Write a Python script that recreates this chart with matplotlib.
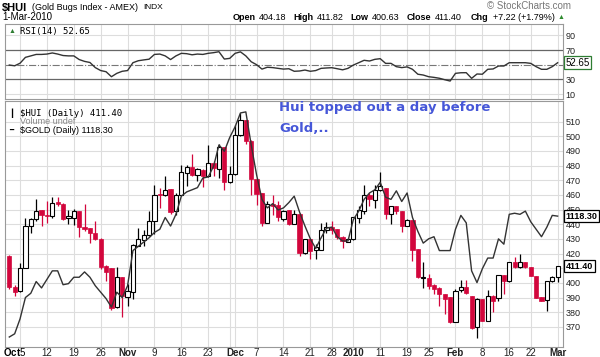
import matplotlib
matplotlib.use('Agg')
import matplotlib.pyplot as plt
import numpy as np
import pandas as pd

plt.rcParams['font.family'] = ['Liberation Sans', 'DejaVu Sans']
plt.rcParams['mathtext.fontset'] = 'custom'
plt.rcParams['mathtext.rm'] = 'Liberation Sans'
plt.rcParams['mathtext.bf'] = 'Liberation Sans:bold'

# HUI daily candles, Oct 1 2009 .. Mar 1 2010
opens = [418.4, 397.3, 394.2, 410.0, 438.8, 443.3, 449.4, 446.3, 445.5, 455.0,
         453.9, 443.9, 444.4, 448.9, 438.3, 437.2, 434.2, 430.1, 411.6, 410.0,
         383.3, 404.1, 390.6, 394.0, 425.2, 429.5, 432.4, 442.1, 460.7, 460.2,
         464.1, 448.9, 460.2, 474.9, 479.0, 473.8, 477.2, 472.6, 481.7, 477.9,
         492.3, 468.6, 474.2, 500.5, 511.1, 496.9, 471.1, 461.3, 441.0, 453.9,
         453.4, 443.3, 449.4, 440.3, 447.1, 420.2, 429.7, 422.4, 422.4, 436.0,
         438.0, 436.5, 431.5, 428.0, 429.7, 444.4, 448.9, 460.2, 456.8, 463.6,
         464.8, 446.7, 452.3, 448.9, 438.7, 442.8, 422.9, 403.6, 403.6, 398.5,
         396.5, 392.3, 390.1, 373.6, 395.1, 396.9, 391.0, 369.7, 389.0, 374.2,
         391.2, 389.5, 405.3, 401.0, 414.3, 410.5, 414.3, 410.5, 404.8, 390.1,
         388.5, 401.0, 404.18]
highs = [419.0, 398.5, 413.2, 444.4, 444.4, 456.9, 449.6, 455.7, 458.4, 458.4,
         454.6, 450.0, 450.5, 449.1, 453.5, 437.5, 442.1, 430.3, 412.0, 410.3,
         410.5, 404.3, 399.2, 426.8, 437.6, 435.8, 448.9, 467.0, 464.7, 473.1,
         464.3, 461.3, 480.6, 480.6, 487.8, 478.3, 477.4, 494.2, 482.8, 494.6,
         492.5, 479.4, 507.3, 516.0, 511.3, 497.1, 471.5, 461.5, 455.7, 459.7,
         455.7, 449.5, 449.6, 450.0, 447.3, 429.9, 429.9, 426.3, 440.6, 441.5,
         442.1, 436.7, 431.7, 430.3, 444.9, 452.3, 467.0, 461.4, 467.0, 475.4,
         465.0, 452.5, 452.5, 449.1, 443.3, 443.0, 423.1, 414.0, 406.0, 399.3,
         397.1, 392.5, 390.3, 396.0, 401.8, 401.8, 391.2, 389.6, 389.2, 395.3,
         391.4, 405.5, 405.5, 414.5, 417.5, 419.5, 414.5, 410.7, 405.0, 390.3,
         401.2, 404.5, 411.82]
lows = [395.8, 391.2, 394.0, 410.0, 434.2, 442.1, 438.8, 441.0, 444.4, 452.3,
        442.6, 439.9, 439.2, 431.5, 435.4, 427.4, 429.5, 409.3, 401.4, 381.7,
        383.0, 376.5, 384.4, 389.0, 425.0, 425.1, 431.9, 433.0, 451.2, 459.1,
        447.1, 446.6, 460.0, 465.9, 472.6, 469.3, 465.2, 472.4, 472.6, 471.5,
        463.6, 468.1, 473.8, 500.3, 494.6, 460.2, 453.4, 438.7, 440.8, 446.6,
        442.1, 442.5, 439.2, 440.0, 418.4, 419.5, 416.0, 416.1, 422.2, 434.2,
        433.1, 429.7, 424.0, 427.8, 429.5, 441.0, 446.7, 452.3, 451.2, 462.5,
        443.7, 439.9, 447.0, 434.7, 438.5, 415.0, 403.5, 396.5, 395.8, 392.3,
        384.4, 379.0, 372.4, 373.4, 393.5, 392.5, 368.6, 362.3, 374.0, 374.0,
        379.9, 387.6, 392.3, 400.8, 410.0, 410.3, 410.3, 404.6, 389.4, 387.6,
        380.6, 400.8, 400.63]
closes = [396.9, 393.9, 410.0, 438.8, 443.3, 448.9, 446.0, 445.6, 454.6, 453.9,
          443.7, 445.5, 448.9, 438.1, 436.5, 433.8, 429.7, 411.1, 407.1, 382.6,
          404.1, 391.2, 394.2, 425.6, 430.1, 432.5, 442.1, 460.2, 459.8, 463.6,
          448.2, 459.7, 475.4, 479.0, 473.8, 477.6, 472.6, 481.7, 478.3, 492.3,
          468.6, 474.2, 500.5, 511.1, 496.9, 471.1, 460.7, 441.0, 453.9, 452.7,
          445.0, 448.9, 440.3, 447.1, 420.2, 429.7, 421.8, 424.7, 436.0, 438.0,
          436.0, 431.3, 428.6, 430.1, 444.9, 449.4, 460.2, 457.3, 463.2, 466.3,
          446.7, 452.3, 448.9, 438.7, 442.8, 422.4, 403.7, 404.3, 398.0, 395.5,
          392.3, 388.9, 373.1, 394.6, 396.9, 393.0, 369.0, 389.0, 374.2, 390.8,
          387.8, 405.3, 401.4, 414.3, 410.5, 414.3, 410.5, 404.8, 389.6, 387.8,
          401.0, 404.3, 411.40]

gold = [1005, 1008, 1022, 1042, 1046, 1057, 1051, 1059, 1067, 1067,
        1054, 1055, 1061, 1061, 1066, 1061, 1053, 1047, 1041, 1033,
        1047, 1042, 1053, 1086, 1090, 1094, 1098, 1103, 1106, 1117,
        1109, 1120, 1137, 1141, 1143, 1145, 1154, 1155, 1165, 1185,
        1179, 1192, 1202, 1215, 1216, 1185, 1157, 1134, 1126, 1130,
        1124, 1126, 1131, 1137, 1122, 1109, 1097, 1088, 1098, 1107,
        1108, 1099, 1095, 1095, 1115, 1123, 1134, 1140, 1143, 1150,
        1136, 1134, 1142, 1132, 1140, 1117, 1104, 1093, 1097, 1099,
        1086, 1086, 1086, 1106, 1119, 1112, 1067, 1056, 1069, 1079,
        1079, 1097, 1092, 1120, 1121, 1120, 1123, 1113, 1106, 1099,
        1108, 1119, 1118.30]

rsi = [49.5, 48.5, 52, 60, 62, 64, 64, 64.5, 66, 64.5,
       62.5, 62, 62, 57, 54.5, 53, 46, 42, 40.4, 33.6,
       38.2, 41, 42, 52.7, 55.4, 56.5, 57.5, 64, 64.5, 62,
       57, 62, 65.5, 65, 63.5, 64.5, 64, 65.5, 66.4, 67.7,
       57.7, 58.6, 65.5, 67.5, 62, 54, 50, 44, 46.5, 46,
       45, 44, 44.5, 41, 41.4, 42.7, 41, 42, 45, 45.5,
       45.9, 44.5, 43, 45, 49.5, 52.7, 56, 55, 57.3, 58.2,
       51.8, 51.8, 47.3, 46, 47, 43.7, 37, 35.9, 33.6, 32.7,
       31.5, 29.5, 27.7, 38.2, 39, 39.1, 31.4, 37.3, 37, 43.7,
       44.2, 48.2, 48.2, 52.7, 52.7, 52.7, 52.7, 51.8, 47.3, 43.7,
       43.7, 47.3, 52.65]

holidays = ['2009-11-26', '2009-12-25', '2010-01-01', '2010-01-18', '2010-02-15']
tick_dates = ['2009-10-05', '2009-10-12', '2009-10-19', '2009-10-26', '2009-11-02',
              '2009-11-09', '2009-11-16', '2009-11-23', '2009-12-01', '2009-12-07',
              '2009-12-14', '2009-12-21', '2009-12-28', '2010-01-04', '2010-01-11',
              '2010-01-19', '2010-01-25', '2010-02-01', '2010-02-08', '2010-02-16',
              '2010-02-22', '2010-03-01']
tick_labels = ['', '12', '19', '26', 'Nov', '9', '16', '23', 'Dec', '7',
               '14', '21', '28', '2010', '11', '19', '25', 'Feb', '8', '16', '22', 'Mar']
bold_labels = ['Nov', 'Dec', '2010', 'Feb', 'Mar']
extra_grid = ['2009-11-30']
price_ticks = [370, 380, 390, 400, 410, 420, 430, 440, 450, 460, 470, 480, 490, 500, 510]

days = pd.bdate_range('2009-10-01', '2010-03-01')
days = days[~days.isin(pd.to_datetime(holidays))]
x = np.arange(len(days))
tick_idx = [days.get_loc(pd.Timestamp(d)) for d in tick_dates]
grid_idx = tick_idx + [days.get_loc(pd.Timestamp(d)) for d in extra_grid]

o = np.array(opens)
h = np.array(highs)
l = np.array(lows)
c = np.array(closes)

RED = '#d2063c'
GRID = '#dddddd'
SPINE = '#999999'

fig = plt.figure(figsize=(6, 3.57), dpi=100)
ax_rsi = fig.add_axes([5/600, 1 - 99/357, 558/600, 75/357])
ax = fig.add_axes([5/600, 1 - 346.5/357, 558/600, 245.5/357])
axg = ax.twinx()

for a in (ax, ax_rsi):
    a.set_xlim(-0.8, 103.0)
    for gi in grid_idx:
        a.axvline(gi, color=GRID, lw=0.8, zorder=0)
    for s in a.spines.values():
        s.set_color(SPINE)
        s.set_linewidth(0.8)
    a.yaxis.tick_right()
    a.tick_params(axis='both', length=0, labelsize=6.5, pad=2, colors='#222222',
                  labelleft=False, labelright=True)

# RSI panel
ax_rsi.set_ylim(3.2, 105.5)
ax_rsi.set_xticks([])
ax_rsi.set_yticks([10, 30, 70, 90])
for lvl in (10, 90):
    ax_rsi.axhline(lvl, color=GRID, lw=0.8, zorder=0)
ax_rsi.axhline(70, color='#666666', lw=0.9, zorder=1)
ax_rsi.axhline(30, color='#666666', lw=0.9, zorder=1)
ax_rsi.axhline(50, color='#777777', lw=0.8, ls='-.', zorder=1)
ax_rsi.plot(x, rsi, color='#333333', lw=1.0, zorder=3)
ax_rsi.annotate('52.65', xy=(1, rsi[-1]), xycoords=('axes fraction', 'data'),
                xytext=(2, 0), textcoords='offset points', va='center', ha='left',
                fontsize=7, annotation_clip=False,
                bbox=dict(boxstyle='square,pad=0.15', fc='white', ec='#2e7d32', lw=0.9))
ax_rsi.text(0.027, 0.9, 'RSI(14) 52.65', transform=ax_rsi.transAxes, fontsize=6.5,
            family='DejaVu Sans Mono', va='center')
ax_rsi.text(0.006, 0.9, '\u25b2', transform=ax_rsi.transAxes, fontsize=5,
            color='#2e7d32', va='center')

# main panel
ax.set_ylim(356.6, 524)
ax.set_yticks(price_ticks)
# the 410 label sits under the last-close tag, as on the original
ax.set_yticklabels(['' if v == 410 else str(v) for v in price_ticks])
for lvl in price_ticks:
    ax.axhline(lvl, color=GRID, lw=0.8, zorder=0)

up = c >= o
bot = np.minimum(o, c)
hgt = np.maximum(np.abs(c - o), 0.5)
ax.vlines(x[up], l[up], h[up], color='black', lw=0.9, zorder=2)
ax.vlines(x[~up], l[~up], h[~up], color=RED, lw=0.9, zorder=2)
ax.bar(x[up], hgt[up], bottom=bot[up], width=0.78, facecolor='white',
       edgecolor='black', lw=0.8, zorder=3)
ax.bar(x[~up], hgt[~up], bottom=bot[~up], width=0.78, facecolor=RED,
       edgecolor=RED, lw=0.5, zorder=3)

ax.set_xticks(tick_idx)
ax.set_xticklabels(tick_labels)
for t in ax.get_xticklabels():
    if t.get_text() in bold_labels:
        t.set_fontweight('bold')
ax.tick_params(axis='x', pad=0.8, labelsize=7)
# first date label is pushed left on the original
fig.text(3/600, 1 - 352/357, r'$\mathbf{Oct}$5', fontsize=7, va='center', ha='left')

ax.annotate('411.40', xy=(1, closes[-1]), xycoords=('axes fraction', 'data'),
            xytext=(2, 0), textcoords='offset points', va='center', ha='left',
            fontsize=6.5, fontweight='bold', annotation_clip=False,
            bbox=dict(boxstyle='square,pad=0.2', fc='white', ec='black', lw=0.9))

axg.set_ylim(996.1, 1226.2)
axg.set_yticks([])
for s in axg.spines.values():
    s.set_visible(False)
axg.plot(x, gold, color='#333333', lw=1.0, zorder=4)
axg.annotate('1118.30', xy=(1, gold[-1]), xycoords=('axes fraction', 'data'),
             xytext=(2, 0), textcoords='offset points', va='center', ha='left',
             fontsize=6.5, fontweight='bold', annotation_clip=False,
             bbox=dict(boxstyle='square,pad=0.2', fc='white', ec='black', lw=0.9))

# legend lines in main panel
fig.text(20/600, 1 - 113/357, '$HUI (Daily) 411.40', fontsize=6.5,
         family='DejaVu Sans Mono', va='center')
fig.text(20/600, 1 - 122/357, 'Volume undef', fontsize=6.5, color='#888888', va='center')
fig.text(20/600, 1 - 130.5/357, '$GOLD (Daily) 1118.30', fontsize=6.5, va='center')
fig.text(9/600, 1 - 130.5/357, '\u2501', fontsize=5, va='center')
fig.text(9/600, 1 - 113/357, '\u2503', fontsize=6, va='center')

# header
fig.text(2/600, 1 - 7.5/357, '$HUI', fontsize=8, fontweight='bold', va='center')
fig.text(32/600, 1 - 7.5/357, '(Gold Bugs Index - AMEX)', fontsize=6.5, va='center')
fig.text(143/600, 1 - 7.5/357, 'INDX', fontsize=6, va='center')
fig.text(2/600, 1 - 17.5/357, '1-Mar-2010', fontsize=7, va='center')
fig.text(487/600, 1 - 6/357, '\u00a9 StockCharts.com', fontsize=7, color='#777777', va='center')

header_items = [('Open', 232.7, True), ('404.18', 258.5, False),
                ('High', 293.3, True), ('411.82', 316.7, False),
                ('Low', 350, True), ('400.63', 371.7, False),
                ('Close', 407, True), ('411.40', 435, False),
                ('Chg', 470.7, True), ('+7.22 (+1.79%)', 492.7, False)]
for txt, px, bold in header_items:
    fig.text(px/600, 1 - 17.5/357, txt, fontsize=6.5,
             fontweight='bold' if bold else 'normal', va='center')
fig.text(558/600, 1 - 17.5/357, '\u25b2', fontsize=5, color='#2e8b2e', va='center')

# comment on the chart
fig.text(279/600, 1 - 107/357, 'Hui topped out a day before', fontsize=9.5,
         fontweight='bold', color='#4657d8', va='center', family='DejaVu Sans')
fig.text(279/600, 1 - 128/357, 'Gold,..', fontsize=9.5,
         fontweight='bold', color='#4657d8', va='center', family='DejaVu Sans')

fig.savefig('out.png', dpi=100)
